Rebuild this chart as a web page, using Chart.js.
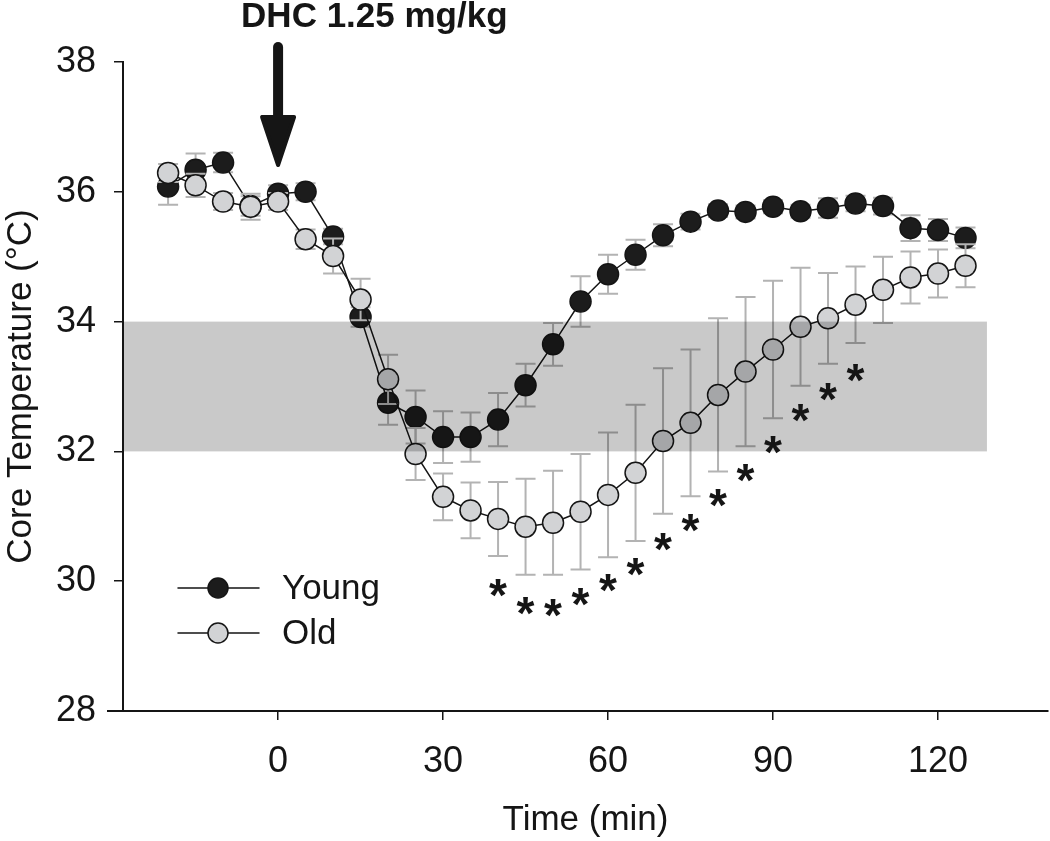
<!DOCTYPE html>
<html>
<head>
<meta charset="utf-8">
<script src="https://cdn.jsdelivr.net/npm/chart.js@4"></script>
<style>
  html, body { margin: 0; padding: 0; background: #fff; overflow: hidden; }
  #wrap { width: 1050px; height: 841px; }
  canvas { display: block; }
</style>
</head>
<body>
<div id="wrap"><canvas id="chart" width="1050" height="841"></canvas></div>
<script>
// time points (min, relative to injection)
const times = [-20, -15, -10, -5, 0, 5, 10, 15, 20, 25, 30, 35, 40, 45, 50, 55, 60, 65, 70, 75, 80, 85, 90, 95, 100, 105, 110, 115, 120, 125];

// young mice: mean core temperature and SEM
const youngMean = [36.08, 36.34, 36.45, 35.78, 35.97, 36.00, 35.31, 34.07, 32.75, 32.53, 32.22, 32.22, 32.49, 33.02, 33.65, 34.31, 34.73, 35.03, 35.33, 35.54, 35.71, 35.69, 35.77, 35.70, 35.75, 35.82, 35.78, 35.44, 35.41, 35.29];
const youngSem = [0.28, 0.25, 0.15, 0.15, 0.13, 0.13, 0.12, 0.15, 0.34, 0.41, 0.40, 0.38, 0.41, 0.33, 0.33, 0.39, 0.30, 0.23, 0.17, 0.12, 0.10, 0.10, 0.10, 0.10, 0.15, 0.12, 0.13, 0.20, 0.17, 0.16];

// old mice
const oldMean = [36.29, 36.10, 35.85, 35.77, 35.85, 35.27, 35.01, 34.34, 33.11, 31.96, 31.30, 31.09, 30.96, 30.84, 30.90, 31.07, 31.33, 31.67, 32.16, 32.44, 32.87, 33.23, 33.57, 33.92, 34.05, 34.26, 34.49, 34.68, 34.74, 34.86];
const oldSem = [0.14, 0.18, 0.13, 0.20, 0.13, 0.15, 0.27, 0.32, 0.38, 0.40, 0.36, 0.43, 0.57, 0.74, 0.80, 0.89, 0.96, 1.05, 1.12, 1.13, 1.18, 1.15, 1.06, 0.91, 0.70, 0.59, 0.51, 0.40, 0.37, 0.33];

// significance marks (time, y position of the asterisk)
const sigTimes = [40, 45, 50, 55, 60, 65, 70, 75, 80, 85, 90, 95, 100, 105];
const sigLevels = [29.89, 29.62, 29.59, 29.76, 29.97, 30.22, 30.60, 30.90, 31.28, 31.67, 32.10, 32.59, 32.92, 33.21];

const xTicks = [0, 30, 60, 90, 120];
const yTicks = [28, 30, 32, 34, 36, 38];
const bandRange = [32, 34];   // shaded hypothermia range
const bandEnd = 128.9;        // band runs from the axis to this time
const doseTime = 0;
const doseLabel = 'DHC 1.25 mg/kg';

const FONT = 'Arial, "Liberation Sans", sans-serif';
const INK = '#151515';
const BAR = '#b3b3b3';

const toPts = (ys) => times.map((t, i) => ({ x: t, y: ys[i] }));

const errorBars = {
  id: 'errorBars',
  beforeDatasetDraw(chart, args) {
    const ds = chart.data.datasets[args.index];
    if (!ds.sem) return;
    const { ctx, scales: { x, y } } = chart;
    ctx.save();
    ctx.strokeStyle = BAR;
    ctx.lineWidth = 2;
    ds.data.forEach((p, i) => {
      const px = x.getPixelForValue(p.x);
      const top = y.getPixelForValue(p.y + ds.sem[i]);
      const bot = y.getPixelForValue(p.y - ds.sem[i]);
      ctx.beginPath();
      ctx.moveTo(px, top); ctx.lineTo(px, bot);
      ctx.moveTo(px - 10, top); ctx.lineTo(px + 10, top);
      ctx.moveTo(px - 10, bot); ctx.lineTo(px + 10, bot);
      ctx.stroke();
    });
    ctx.restore();
  }
};

const overlay = {
  id: 'overlay',
  afterDatasetsDraw(chart) {
    const { ctx, chartArea, scales: { x, y } } = chart;
    ctx.save();
    // shaded band sits over the data
    const y1 = y.getPixelForValue(bandRange[1]);
    const y0 = y.getPixelForValue(bandRange[0]);
    ctx.fillStyle = 'rgba(0,0,0,0.21)';
    ctx.fillRect(chartArea.left + 1, y1, x.getPixelForValue(bandEnd) - chartArea.left - 1, y0 - y1);

    // asterisks
    ctx.fillStyle = INK;
    ctx.font = 'bold 46px ' + FONT;
    ctx.textAlign = 'center';
    ctx.textBaseline = 'alphabetic';
    const m = ctx.measureText('*');
    const shift = (m.actualBoundingBoxAscent - m.actualBoundingBoxDescent) / 2;
    sigTimes.forEach((t, i) => {
      ctx.fillText('*', x.getPixelForValue(t), y.getPixelForValue(sigLevels[i]) + shift);
    });
    ctx.restore();
  },
  afterDraw(chart) {
    const { ctx, chartArea, scales: { x } } = chart;
    ctx.save();
    // x axis runs a little past the y axis
    ctx.strokeStyle = INK;
    ctx.lineWidth = 2;
    ctx.beginPath();
    ctx.moveTo(chartArea.left - 16, chartArea.bottom);
    ctx.lineTo(chartArea.left, chartArea.bottom);
    ctx.stroke();

    // injection arrow
    const ax = x.getPixelForValue(doseTime);
    ctx.fillStyle = INK;
    ctx.strokeStyle = INK;
    ctx.lineCap = 'round';
    ctx.lineWidth = 10;
    ctx.beginPath();
    ctx.moveTo(ax, 47); ctx.lineTo(ax, 122);
    ctx.stroke();
    ctx.lineWidth = 4;
    ctx.lineJoin = 'round';
    ctx.beginPath();
    ctx.moveTo(ax - 16, 117);
    ctx.lineTo(ax + 16, 117);
    ctx.lineTo(ax, 165);
    ctx.closePath();
    ctx.fill(); ctx.stroke();

    ctx.font = 'bold 35px ' + FONT;
    ctx.textAlign = 'left';
    ctx.textBaseline = 'alphabetic';
    ctx.fillText(doseLabel, ax - 37, 27);

    // legend
    const items = [
      { label: 'Young', fill: '#1c1c1c', y: 588 },
      { label: 'Old', fill: '#d2d3d5', y: 633 }
    ];
    items.forEach(it => {
      ctx.lineWidth = 1.5;
      ctx.strokeStyle = INK;
      ctx.beginPath();
      ctx.moveTo(178, it.y); ctx.lineTo(259, it.y);
      ctx.stroke();
      ctx.beginPath();
      ctx.arc(218, it.y, 10, 0, Math.PI * 2);
      ctx.fillStyle = it.fill;
      ctx.fill(); ctx.stroke();
      ctx.fillStyle = INK;
      ctx.font = '35px ' + FONT;
      ctx.textBaseline = 'middle';
      ctx.fillText(it.label, 282, it.y + 1);
    });
    ctx.restore();
  }
};

const ctx = document.getElementById('chart').getContext('2d');
new Chart(ctx, {
  type: 'line',
  data: {
    datasets: [
      {
        label: 'Old', data: toPts(oldMean), sem: oldSem,
        borderColor: INK, borderWidth: 1.5,
        pointRadius: 10.5, pointBorderWidth: 1.5,
        pointBackgroundColor: '#d2d3d5', pointBorderColor: INK
      },
      {
        label: 'Young', data: toPts(youngMean), sem: youngSem,
        borderColor: INK, borderWidth: 1.5,
        pointRadius: 10.5, pointBorderWidth: 1.5,
        pointBackgroundColor: '#1c1c1c', pointBorderColor: INK
      }
    ]
  },
  options: {
    responsive: false,
    animation: false,
    clip: false,
    layout: { autoPadding: false, padding: { top: 62, right: 2, left: 0, bottom: 0 } },
    plugins: { legend: { display: false }, tooltip: { enabled: false } },
    scales: {
      x: {
        type: 'linear', min: -28.2, max: 140,
        afterBuildTicks: s => { s.ticks = xTicks.map(v => ({ value: v })); },
        afterFit: s => { s.height = 130; s.paddingLeft = 0; s.paddingRight = 0; },
        grid: { drawOnChartArea: false, tickLength: 9, color: INK, lineWidth: 1.5 },
        border: { color: INK, width: 2 },
        ticks: { font: { size: 36, family: FONT }, color: INK, padding: 20, maxRotation: 0 },
        title: { display: true, text: 'Time (min)', font: { size: 35, family: FONT }, color: INK, padding: { top: 0, bottom: 0 } }
      },
      y: {
        min: 28, max: 38,
        afterBuildTicks: s => { s.ticks = yTicks.map(v => ({ value: v })); },
        afterFit: s => { s.width = 123; },
        grid: { drawOnChartArea: false, tickLength: 9, color: INK, lineWidth: 1.5 },
        border: { color: INK, width: 2 },
        ticks: { font: { size: 36, family: FONT }, color: INK, padding: 18 },
        title: { display: true, text: 'Core Temperature (°C)', font: { size: 35, family: FONT }, color: INK, padding: { top: 0, bottom: 0 } }
      }
    }
  },
  plugins: [errorBars, overlay]
});
</script>
</body>
</html>
